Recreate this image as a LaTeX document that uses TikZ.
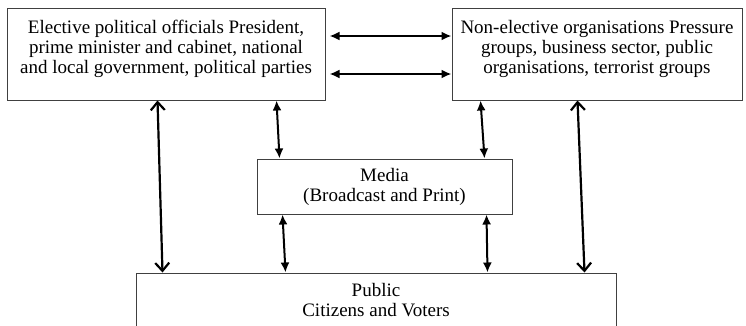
\documentclass[tikz,border=0pt]{standalone}
\usepackage{fontspec}
\setmainfont{Liberation Serif}
\usetikzlibrary{arrows.meta}

\tikzset{
    box/.style = {draw = black!75, line width = 1pt, align = center, inner sep = 0pt,
                  font = \fontsize{19}{20}\selectfont},
    link/.style = {line width = 2pt, {Latex[length=10pt,width=9pt]}-{Latex[length=10pt,width=9pt]}},
    longlink/.style = {line width = 2.2pt, {Straight Barb[length=8pt,width=14pt]}-{Straight Barb[length=8pt,width=14pt]}}
}

\begin{document}
\begin{tikzpicture}[x=1pt, y=1pt]
    \useasboundingbox (0,0) rectangle (746,325);
    \clip (0,0) rectangle (746,325);
    \node (elective) at (166,271) [box, minimum width = 318pt, minimum height = 92pt]
        {Elective political officials President,\\ prime minister and cabinet, national\\ and local government, political parties\\[-6pt]};
    \node (nonelective) at (597,271) [box, minimum width = 290pt, minimum height = 92pt]
        {Non-elective organisations Pressure\\ groups, business sector, public\\ organisations, terrorist groups\\[-6pt]};
    \node (media) at (384.5,138.5) [box, minimum width = 255pt, minimum height = 55pt]
        {Media\\ (Broadcast and Print)};
    \node (public) at (376,25) [box, minimum width = 480pt, minimum height = 54pt]
        {Public\\ Citizens and Voters};
    \draw [link] ([xshift = 4pt, yshift = 18pt]elective.east) -- ([yshift = 18pt]elective.east -| nonelective.west);
    \draw [link] ([xshift = 4pt, yshift = -20pt]elective.east) -- ([yshift = -20pt]elective.east -| nonelective.west);
    \draw [longlink] ([xshift = 151pt]elective.south west) -- ([xshift = 27pt]public.north west);
    \draw [longlink] ([xshift = 126pt]nonelective.south west) -- ([xshift = -32pt]public.north east);
    \draw [link] ([xshift = 270pt]elective.south west) -- ([xshift = 23pt]media.north west);
    \draw [link] ([xshift = 29pt]nonelective.south west) -- ([xshift = -28pt]media.north east);
    \draw [link] ([xshift = 26pt]media.south west) -- ([xshift = 150pt]public.north west);
    \draw [link] ([xshift = -26pt]media.south east) -- ([xshift = 352pt]public.north west);
\end{tikzpicture}
\end{document}
